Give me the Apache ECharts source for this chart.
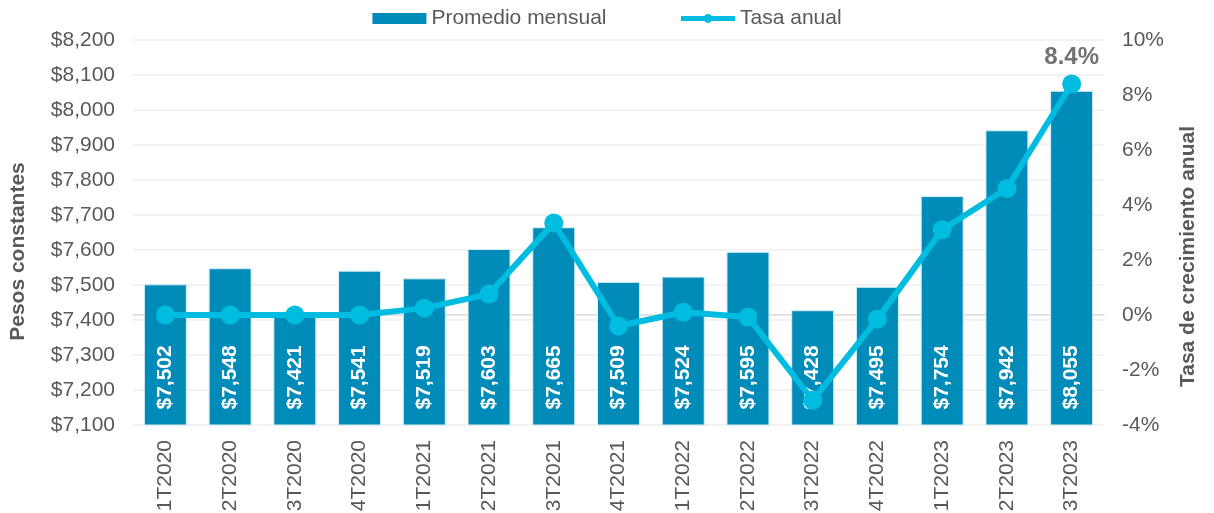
<!DOCTYPE html>
<html>
<head>
<meta charset="utf-8">
<script src="https://cdn.jsdelivr.net/npm/echarts@6/dist/echarts.min.js"></script>
<style>
  html, body { margin: 0; padding: 0; background: #fff; }
</style>
</head>
<body>
<div id="chart" style="width:1214px;height:513px"></div>
<script>
  var categories = ['1T2020', '2T2020', '3T2020', '4T2020', '1T2021', '2T2021', '3T2021', '4T2021',
    '1T2022', '2T2022', '3T2022', '4T2022', '1T2023', '2T2023', '3T2023']
  var promedio = [7502, 7548, 7421, 7541, 7519, 7603, 7665, 7509, 7524, 7595, 7428, 7495, 7754, 7942, 8055]
  var tasa = [0, 0, 0, 0, 0.25, 0.76, 3.35, -0.4, 0.1, -0.07, -3.1, -0.15, 3.1, 4.6, 8.4]

  var chart = echarts.init(document.getElementById('chart'))
  var axisText = {color: '#595959', fontSize: 21, fontFamily: 'Liberation Sans'}
  var option = {
    animation: false,
    textStyle: {fontFamily: 'Liberation Sans'},
    legend: {
      top: 3,
      left: 'center',
      itemGap: 72,
      itemWidth: 54,
      itemHeight: 11,
      textStyle: {color: '#595959', fontSize: 21},
      data: [
        {name: 'Promedio mensual', icon: 'rect', itemStyle: {borderWidth: 0}},
        {name: 'Tasa anual', lineStyle: {width: 5}}
      ]
    },
    grid: {left: 133, right: 110, top: 40, bottom: 88, containLabel: false, outerBoundsMode: 'none'},
    xAxis: {
      type: 'category',
      data: categories,
      axisTick: {show: false},
      axisLine: {lineStyle: {color: '#d9d9d9', width: 1.5}},
      axisLabel: Object.assign({}, axisText, {rotate: 90, margin: 15})
    },
    yAxis: [
      {
        type: 'value',
        min: 7100,
        max: 8200,
        interval: 100,
        name: 'Pesos constantes',
        nameLocation: 'middle',
        nameRotate: 90,
        nameGap: 104,
        nameTextStyle: {color: '#595959', fontSize: 21, fontWeight: 'bold', padding: [0, 38, 0, 0]},
        axisLine: {show: false},
        axisTick: {show: false},
        splitLine: {lineStyle: {color: '#eeeeee', width: 1.5}},
        axisLabel: Object.assign({}, axisText, {
          margin: 18,
          formatter: function (v) {
            return '$' + v.toLocaleString('en-US')
          }
        })
      },
      {
        type: 'value',
        min: -4,
        max: 10,
        interval: 2,
        name: 'Tasa de crecimiento anual',
        nameLocation: 'middle',
        nameRotate: 90,
        nameGap: 74,
        nameTextStyle: {color: '#595959', fontSize: 21, fontWeight: 'bold', padding: [0, 48, 0, 0]},
        axisLine: {show: false},
        axisTick: {show: false},
        splitLine: {show: false},
        axisLabel: Object.assign({}, axisText, {
          margin: 18,
          formatter: function (v) {
            return v + '%'
          }
        })
      }
    ],
    series: [
      {
        name: 'Promedio mensual',
        type: 'bar',
        barWidth: 43,
        data: promedio,
        itemStyle: {color: '#008BB9', borderColor: '#d8eef5', borderWidth: 1},
        label: {
          show: true,
          position: 'insideBottom',
          rotate: 90,
          align: 'left',
          verticalAlign: 'middle',
          distance: 16,
          color: '#fff',
          fontSize: 21,
          fontWeight: 'bold',
          formatter: function (p) {
            return '$' + p.value.toLocaleString('en-US')
          }
        }
      },
      {
        name: 'Tasa anual',
        type: 'line',
        yAxisIndex: 1,
        data: tasa,
        symbol: 'circle',
        symbolSize: 19,
        lineStyle: {color: '#00BCE0', width: 6},
        itemStyle: {color: '#00BCE0'},
        label: {
          show: true,
          position: 'top',
          distance: 5,
          color: '#767171',
          fontSize: 24,
          fontWeight: 'bold',
          formatter: function (p) {
            return p.dataIndex === tasa.length - 1 ? p.value.toFixed(1) + '%' : ''
          }
        }
      }
    ]
  }
  chart.setOption(option)
</script>
</body>
</html>
